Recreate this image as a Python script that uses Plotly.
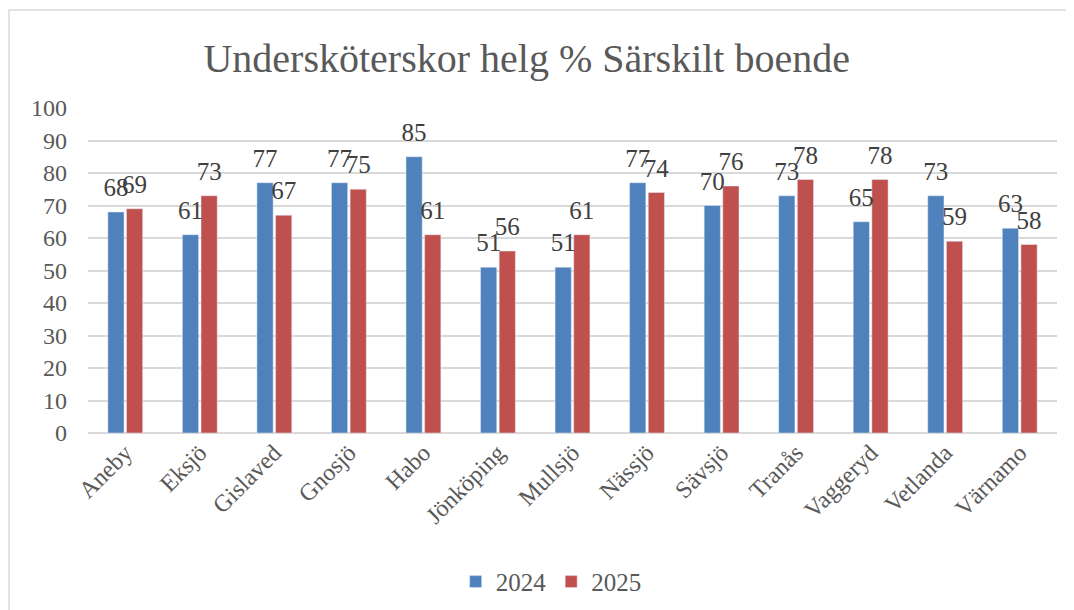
import plotly.graph_objects as go

kommuner = ["Aneby", "Eksjö", "Gislaved", "Gnosjö", "Habo", "Jönköping", "Mullsjö",
            "Nässjö", "Sävsjö", "Tranås", "Vaggeryd", "Vetlanda", "Värnamo"]
y2024 = [68, 61, 77, 77, 85, 51, 51, 77, 70, 73, 65, 73, 63]
y2025 = [69, 73, 67, 75, 61, 56, 61, 74, 76, 78, 78, 59, 58]
y_ticks = list(range(0, 101, 10))

font_serif = "Liberation Serif, DejaVu Serif, serif"
grey_text = "#595959"
label_font = dict(size=25, color="#404040", family=font_serif)

fig = go.Figure()

for name, vals, col in [("2024", y2024, "#4F81BD"), ("2025", y2025, "#C0504D")]:
    fig.add_trace(go.Bar(x=kommuner, y=vals, name=name, marker_color=col,
                         offsetgroup=name))

# data labels as grouped scatter text, an invisible marker pushes the text up a bit
for name, vals in [("2024", y2024), ("2025", y2025)]:
    fig.add_trace(go.Scatter(x=kommuner, y=vals, mode="markers+text", text=vals,
                             textposition="top center", textfont=label_font,
                             marker=dict(size=14, color="rgba(0,0,0,0)"),
                             offsetgroup=name, showlegend=False, hoverinfo="skip",
                             cliponaxis=False))

fig.update_layout(
    width=1074, height=610,
    paper_bgcolor="white", plot_bgcolor="white",
    margin=dict(l=80, r=25, t=100, b=185),
    barmode="group", bargap=0.5, bargroupgap=0.13,
    scattermode="group", scattergap=0.5,
    font=dict(family=font_serif, color=grey_text, size=22),
    title=dict(text="Undersköterskor helg % Särskilt boende", x=0.483, xanchor="center",
               y=0.918, yanchor="middle", font=dict(size=40, color=grey_text)),
    legend=dict(orientation="h", x=0.478, xanchor="center", y=-0.458, yanchor="middle",
                font=dict(size=25, color=grey_text), itemwidth=30),
    showlegend=True,
)

fig.update_yaxes(range=[0, 100], tickvals=y_ticks, showgrid=True, gridcolor="#D9D9D9",
                 gridwidth=1.5, zeroline=True, zerolinecolor="#D9D9D9", zerolinewidth=1.5,
                 ticks="", tickfont=dict(size=24, color=grey_text), ticklabelstandoff=20)
fig.update_xaxes(tickangle=-45, showline=False, ticks="",
                 tickfont=dict(size=24, color=grey_text))

# chart frame
fig.add_shape(type="rect", xref="paper", yref="paper", x0=-0.0815, y0=-0.56, x1=1.03, y1=1.3015,
              line=dict(color="#D9D9D9", width=1.5), fillcolor="rgba(0,0,0,0)", layer="below")

fig.write_html("out.html")
